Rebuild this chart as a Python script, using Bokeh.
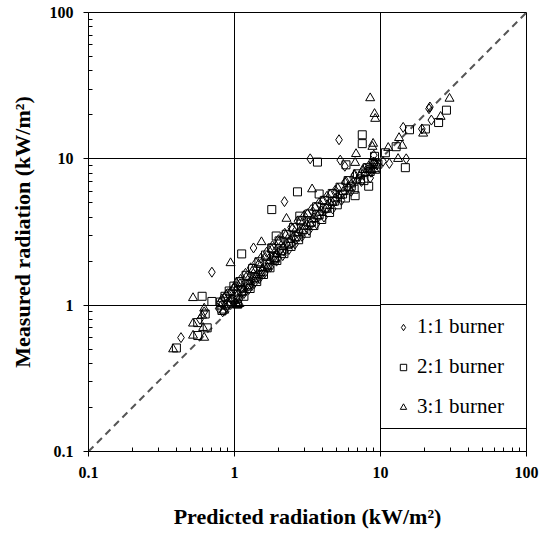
from bokeh.plotting import figure
from bokeh.models import FixedTicker, CustomJSTickFormatter, Legend, LegendItem
from bokeh.embed import file_html
from bokeh.resources import INLINE

# ---------------- data ----------------
# 1:1 burner (diamonds)
d_band_x = [0.78, 0.80, 0.83, 0.85, 0.88, 0.90, 0.92, 0.95, 0.98, 1.00, 1.03, 1.05, 1.08, 1.10, 1.13,
            1.16, 1.19, 1.22, 1.25, 1.29, 1.32, 1.36, 1.40, 1.44, 1.48, 1.52, 1.56, 1.61, 1.66, 1.71,
            1.76, 1.82, 1.88, 1.94, 2.00, 2.07, 2.14, 2.21, 2.28, 2.36, 2.44, 2.52, 2.60, 2.70, 2.80,
            2.90, 3.00, 3.12, 3.24, 3.36, 3.50, 3.65, 3.80, 3.95, 4.10, 4.30, 4.50, 4.70, 4.90, 5.15,
            5.40, 5.70, 6.00, 6.30, 6.65, 7.00, 7.40, 7.80, 8.20, 8.60, 9.00, 9.40, 8.50]
d_band_y = [0.95, 1.04, 0.90, 1.12, 0.97, 1.20, 1.02, 1.10, 1.30, 1.04, 1.42, 1.18, 1.10, 1.50, 1.30,
            1.20, 1.65, 1.38, 1.28, 1.80, 1.50, 1.40, 1.95, 1.62, 1.52, 2.10, 1.75, 1.66, 2.30, 1.95,
            1.82, 2.55, 2.15, 2.00, 2.80, 2.38, 2.18, 3.10, 2.62, 2.40, 3.40, 2.90, 2.62, 3.75, 3.20,
            2.95, 4.10, 3.55, 3.25, 4.50, 3.95, 3.60, 5.00, 4.40, 4.00, 5.55, 4.95, 4.55, 6.10, 5.50,
            5.20, 6.90, 6.40, 6.00, 7.80, 7.20, 7.00, 8.60, 8.40, 8.10, 9.50, 9.10, 7.40]
d_out_x = [0.43, 0.58, 0.70, 0.62, 1.35, 2.20, 3.30, 5.20, 5.30, 5.70, 9.00, 9.10, 11.5, 15.0, 14.3,
           19.2, 21.5, 21.8, 22.3, 10.4]
d_out_y = [0.60, 0.80, 1.68, 0.90, 2.46, 5.10, 10.0, 13.5, 9.80, 8.90, 10.6, 9.20, 9.30, 10.0, 16.4,
           16.0, 22.0, 22.6, 18.4, 9.60]

# 2:1 burner (squares)
s_band_x = [0.80, 0.82, 0.86, 0.89, 0.92, 0.95, 0.99, 1.02, 1.05, 1.09, 1.12, 1.16, 1.20, 1.24, 1.28,
            1.33, 1.38, 1.42, 1.47, 1.52, 1.58, 1.63, 1.69, 1.75, 1.81, 1.88, 1.95, 2.02, 2.10, 2.18,
            2.26, 2.35, 2.44, 2.54, 2.64, 2.75, 2.86, 2.98, 3.10, 3.23, 3.36, 3.50, 3.65, 3.80, 3.96,
            4.12, 4.30, 4.48, 4.67, 4.86, 5.06, 5.28, 5.50, 5.75, 6.00, 6.30, 6.60, 6.95, 7.30, 7.70,
            8.10, 8.50, 8.90, 9.30, 9.60]
s_band_y = [1.05, 0.92, 1.15, 1.00, 1.25, 1.05, 1.35, 1.10, 1.02, 1.45, 1.25, 1.15, 1.60, 1.38, 1.30,
            1.78, 1.55, 1.45, 1.98, 1.70, 1.62, 2.20, 1.90, 1.80, 2.45, 2.12, 2.02, 2.75, 2.35, 2.25,
            3.05, 2.65, 2.52, 3.40, 2.95, 2.80, 3.80, 3.30, 3.10, 4.20, 3.70, 3.50, 4.70, 4.15, 3.85,
            5.20, 4.60, 4.30, 5.80, 5.15, 4.85, 6.40, 5.75, 5.40, 7.10, 6.50, 6.20, 7.90, 7.30, 7.10,
            8.70, 8.20, 9.30, 8.70, 9.20]
s_out_x = [0.40, 0.56, 0.56, 0.60, 0.63, 0.70, 0.65, 1.12, 1.80, 1.80, 1.93, 2.70, 2.80, 3.70, 3.80,
           5.80, 7.50, 7.50, 9.10, 10.8, 12.8, 14.8, 15.8, 20.3, 25.0, 28.3, 8.30, 6.70]
s_out_y = [0.51, 0.62, 0.76, 1.15, 0.87, 1.06, 0.70, 2.24, 4.50, 2.46, 2.97, 5.95, 4.06, 9.50, 5.75,
           9.10, 14.6, 12.7, 10.4, 11.0, 12.1, 8.70, 15.8, 16.0, 17.7, 21.5, 6.50, 5.60]

# 3:1 burner (triangles)
t_band_x = [0.80, 0.82, 0.85, 0.88, 0.91, 0.94, 0.97, 1.00, 1.04, 1.06, 1.09, 1.13, 1.16, 1.20, 1.24,
            1.28, 1.32, 1.37, 1.41, 1.46, 1.51, 1.56, 1.62, 1.68, 1.74, 1.80, 1.87, 1.94, 2.01, 2.08,
            2.16, 2.24, 2.32, 2.41, 2.50, 2.60, 2.70, 2.81, 2.92, 3.04, 3.16, 3.29, 3.42, 3.56, 3.70,
            3.85, 4.00, 4.17, 4.34, 4.52, 4.70, 4.90, 5.10, 5.32, 5.55, 5.80, 6.05, 6.30, 6.60, 6.90,
            7.20, 7.55, 7.90, 8.30, 8.70, 9.00, 9.20, 1.05, 1.08]
t_band_y = [0.98, 1.10, 0.92, 1.18, 1.00, 1.22, 1.10, 1.32, 1.00, 1.20, 1.40, 1.22, 1.30, 1.55, 1.32,
            1.45, 1.70, 1.48, 1.60, 1.90, 1.65, 1.78, 2.12, 1.82, 2.00, 2.40, 2.05, 2.22, 2.70, 2.30,
            2.50, 3.00, 2.55, 2.80, 3.35, 2.85, 3.10, 3.75, 3.20, 3.45, 4.20, 3.60, 3.85, 4.65, 4.05,
            4.30, 5.15, 4.50, 4.80, 5.70, 5.00, 5.35, 6.30, 5.60, 5.95, 7.00, 6.30, 6.70, 7.70, 7.10,
            7.60, 8.40, 8.00, 8.90, 8.40, 9.40, 8.30, 1.00, 1.02]
t_out_x = [0.38, 0.52, 0.62, 0.52, 0.61, 0.62, 0.52, 0.60, 0.94, 1.53, 2.27, 3.40, 6.70, 6.80, 8.50,
           9.10, 9.20, 8.90, 11.3, 13.2, 13.4, 14.1, 19.6, 25.8, 29.7, 8.80]
t_out_y = [0.50, 0.62, 0.60, 0.75, 0.70, 0.95, 1.12, 0.85, 1.94, 2.70, 3.90, 6.20, 9.40, 10.8, 26.0,
           20.3, 18.8, 12.7, 11.9, 10.0, 13.9, 12.3, 14.9, 19.4, 25.8, 12.1]

diag = [0.1, 100]
major_ticks = [0.1, 1, 10, 100]
series_labels = ["1:1 burner", "2:1 burner", "3:1 burner"]

# ---------------- figure ----------------
p = figure(width=540, height=533, x_axis_type="log", y_axis_type="log",
           x_range=(0.1, 100), y_range=(0.1, 100),
           output_backend="svg", toolbar_location=None,
           min_border_left=88, min_border_right=14, min_border_top=12, min_border_bottom=82)
p.background_fill_color = "white"
p.border_fill_color = "white"
p.outline_line_color = "black"
p.outline_line_width = 1
p.outline_line_alpha = 1

minor = [m * 10.0 ** k for k in (-1, 0, 1) for m in range(2, 10)]
for ax in (p.xaxis[0], p.yaxis[0]):
    ax.ticker = FixedTicker(ticks=major_ticks, minor_ticks=minor)
    ax.formatter = CustomJSTickFormatter(code="return tick < 1 ? tick.toFixed(1) : tick.toFixed(0);")
    ax.major_tick_in = 0
    ax.major_tick_out = 5
    ax.minor_tick_in = 4
    ax.minor_tick_out = 0
    ax.axis_line_color = "black"
    ax.major_tick_line_color = "black"
    ax.minor_tick_line_color = "black"
    ax.major_label_text_font = "Liberation Serif"
    ax.major_label_text_font_style = "bold"
    ax.major_label_text_font_size = "16px"
    ax.major_label_text_color = "black"
    ax.major_label_standoff = 10
    ax.axis_label_text_font = "Liberation Serif"
    ax.axis_label_text_font_style = "bold"
    ax.axis_label_text_font_size = "22px"
    ax.axis_label_text_color = "black"

p.xaxis.axis_label = "Predicted radiation (kW/m²)"
p.yaxis.axis_label = "Measured radiation (kW/m²)"
p.xaxis.axis_label_standoff = 23
p.yaxis.axis_label_standoff = 12

for g in (p.xgrid[0], p.ygrid[0]):
    g.ticker = FixedTicker(ticks=major_ticks)
    g.grid_line_color = "black"
    g.grid_line_width = 1
    g.grid_line_alpha = 1

p.line(x=diag, y=diag, line_dash="7 5", line_width=2, line_color="#555555")

r1 = p.scatter(x=d_band_x + d_out_x, y=d_band_y + d_out_y, marker="diamond", size=10,
               fill_color=None, line_color="black", line_width=1)
r2 = p.scatter(x=s_band_x + s_out_x, y=s_band_y + s_out_y, marker="square", size=8,
               fill_color=None, line_color="black", line_width=1)
r3 = p.scatter(x=t_band_x + t_out_x, y=t_band_y + t_out_y, marker="triangle", size=9,
               fill_color=None, line_color="black", line_width=1)

legend = Legend(items=[LegendItem(label=series_labels[0], renderers=[r1]),
                       LegendItem(label=series_labels[1], renderers=[r2]),
                       LegendItem(label=series_labels[2], renderers=[r3])],
                location=(292, 22), orientation="vertical",
                label_text_font="Liberation Serif", label_text_font_size="21px",
                label_text_color="black",
                glyph_width=26, glyph_height=16, label_standoff=1,
                label_width=100, label_height=24, spacing=15, padding=9, margin=0,
                border_line_color="black", border_line_width=1, border_line_alpha=1,
                background_fill_color="white", background_fill_alpha=1)
p.add_layout(legend)

open("out.html", "w").write(file_html(p, INLINE))
